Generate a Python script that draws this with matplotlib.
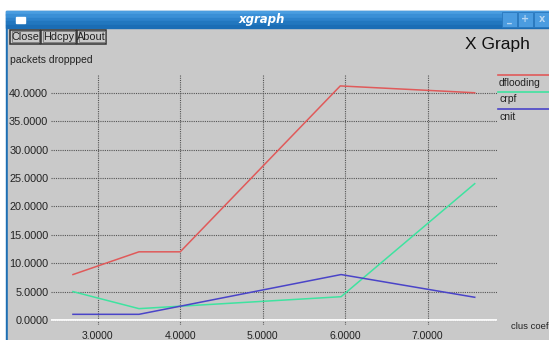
import matplotlib.pyplot as plt
from matplotlib.patches import Rectangle

# data
series_names = ['dflooding', 'crpf', 'cnit']
series_colors = ['#e05a5a', '#3fe3a0', '#4a44c8']

dflooding_x = [2.7, 3.5, 4.0, 5.94, 7.57]
dflooding_y = [8.0, 12.0, 12.0, 41.2, 40.0]

crpf_x = [2.7, 3.5, 5.95, 7.57]
crpf_y = [5.0, 2.0, 4.1, 24.0]

cnit_x = [2.7, 3.5, 5.95, 7.57]
cnit_y = [1.0, 1.0, 8.0, 4.0]

x_ticks = [3, 4, 5, 6, 7]
y_ticks = [0, 5, 10, 15, 20, 25, 30, 35, 40]

W, H = 549, 340
bg = '#c9c9c9'
font = ['Liberation Sans Narrow', 'Liberation Sans', 'DejaVu Sans']

fig = plt.figure(figsize=(W / 100, H / 100), dpi=100)
fig.patch.set_facecolor('white')

# window chrome, drawn in pixel coords
chrome = fig.add_axes([0, 0, 1, 1])
chrome.set_xlim(0, W)
chrome.set_ylim(H, 0)
chrome.axis('off')
chrome.add_patch(Rectangle((6, 11), W, H, color='#1d6fb3', zorder=0))
chrome.add_patch(Rectangle((8, 28), W, H, color=bg, zorder=1))
# title bar gradient-ish
for i, c in enumerate(['#4a9de0', '#3a8fd6', '#2d82cb', '#2277bf', '#1b6db5']):
    chrome.add_patch(Rectangle((6, 11 + i * 3.4), W, 3.5, color=c, zorder=1))
chrome.add_patch(Rectangle((16, 17), 9, 6, color='white', zorder=2))
chrome.text(262, 19.5, 'xgraph', color='white', fontsize=8.5, fontweight='bold',
            fontstyle='italic', ha='center', va='center', family=['DejaVu Sans'])
for bx, sym in zip([502, 518, 534], ['_', '+', 'x']):
    chrome.add_patch(Rectangle((bx, 12), 15, 15, color='#4b9ce0', ec='#2a78bd', lw=0.6, zorder=2))
    chrome.text(bx + 7.5, 19.5, sym, color='#b5d5f2', fontsize=7, fontweight='bold',
                ha='center', va='center', zorder=3)

# buttons
for bx, bw, label in [(10, 30, 'Close'), (41, 35, 'Hdcpy'), (77, 29, 'About')]:
    chrome.add_patch(Rectangle((bx, 29.5), bw, 14, fill=False, ec='#333333', lw=1.1, zorder=3))
    chrome.add_patch(Rectangle((bx + 1.5, 31), bw - 3, 11, fill=False, ec='#777777', lw=0.6, zorder=3))
    chrome.text(bx + bw / 2, 37, label, fontsize=7.8, ha='center', va='center',
                color='#222222', family=font, zorder=4)

chrome.text(10, 60, 'packets droppped', fontsize=7.5, ha='left', va='center',
            color='#222222', family=font)
chrome.text(465, 45, 'X Graph', fontsize=12.5, ha='left', va='center',
            color='#111111', family=['Liberation Sans', 'DejaVu Sans'])
chrome.text(511, 326.5, 'clus coef', fontsize=6.8, ha='left', va='center',
            color='#222222', family=font)

# legend in xgraph style: line above the name
for i, (name, col) in enumerate(zip(series_names, series_colors)):
    ly = 75 + i * 17
    chrome.plot([498, W], [ly, ly], color=col, lw=1.2)
    chrome.text(499, ly + 7.5, name, fontsize=7.5, ha='left', va='center',
                color='#222222', family=font)

# plot area
left, right, top, bottom = 51, 497, 74, 325
ax = fig.add_axes([left / W, (H - bottom) / H, (right - left) / W, (bottom - top) / H])
ax.set_facecolor('none')
ax.set_xlim(2.434, 7.84)
ax.set_ylim(-0.88, 43.3)
for s in ax.spines.values():
    s.set_visible(False)

ax.set_xticks(x_ticks)
ax.set_yticks(y_ticks)
ax.set_xticklabels(['%.4f' % v for v in x_ticks], family=font, fontsize=7.5, color='#222222')
ax.set_yticklabels(['%.4f' % v for v in y_ticks], family=font, fontsize=7.8, color='#222222')
ax.tick_params(axis='both', length=0)
ax.tick_params(axis='y', pad=2)
ax.tick_params(axis='x', pad=4.5)
ax.grid(True, linestyle=(0, (1, 1)), color='#555555', linewidth=0.8)
ax.axhline(0, color='white', lw=1.3, zorder=2)

ax.plot(dflooding_x, dflooding_y, color=series_colors[0], lw=1.1, zorder=3)
ax.plot(crpf_x, crpf_y, color=series_colors[1], lw=1.1, zorder=3)
ax.plot(cnit_x, cnit_y, color=series_colors[2], lw=1.1, zorder=3)

fig.savefig('out.png', dpi=100, facecolor=fig.get_facecolor())
